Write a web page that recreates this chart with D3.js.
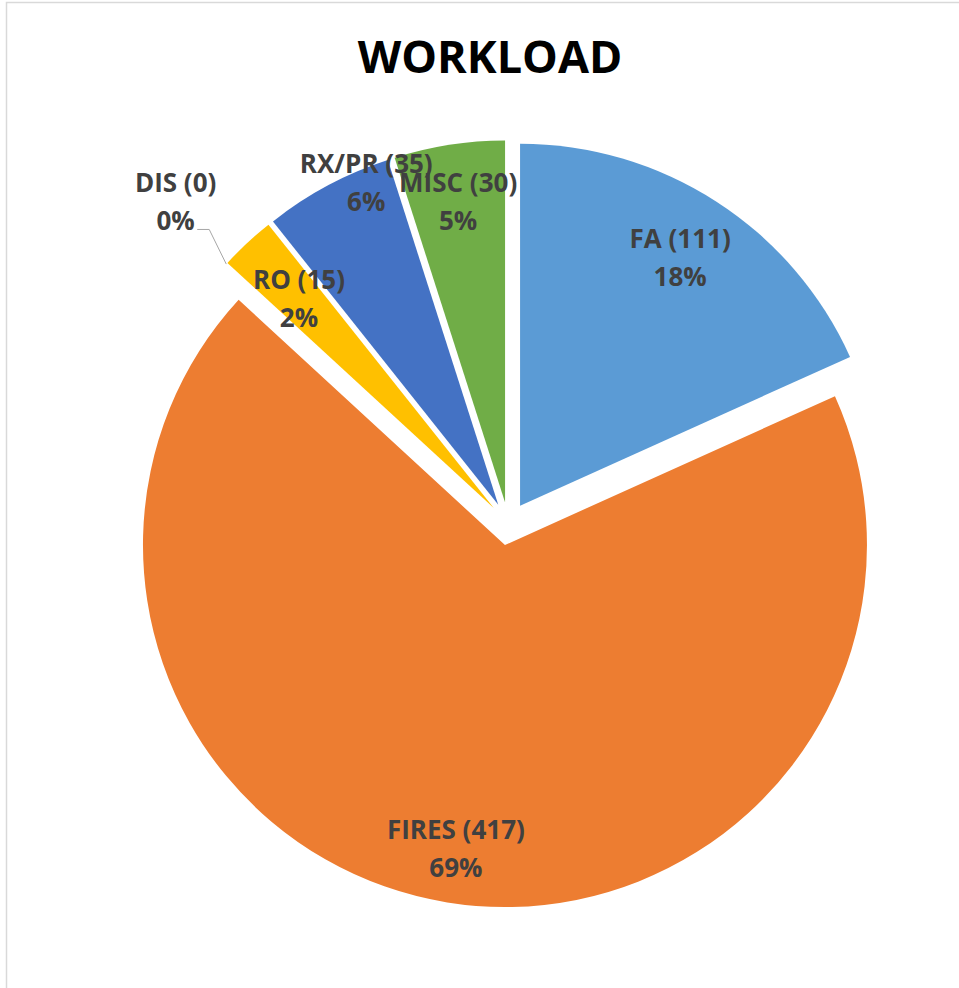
<!DOCTYPE html>
<html>
<head>
<meta charset="utf-8">
<script src="https://cdn.jsdelivr.net/npm/d3@7"></script>
<style>
  html, body { margin: 0; padding: 0; background: #fff; }
  svg { display: block; }
</style>
</head>
<body>
<svg id="canvas"></svg>
<script>
let width = 959;
let height = 988;

// chart data
let categories = ['FA', 'FIRES', 'DIS', 'RO', 'RX/PR', 'MISC'];
let counts = [111, 417, 0, 15, 35, 30];
let percentLabels = ['18%', '69%', '0%', '2%', '6%', '5%'];
let colors = ['#5B9BD5', '#ED7D31', '#A5A5A5', '#FFC000', '#4472C4', '#70AD47'];

// pie layout
let cx = 508.4;
let cy = 523.8;
let radius = 362;
let explode = 21.5;

// where each label sits (fraction of radius, angle nudge in degrees)
let labelSpots = {
  'FA': [0.815, 0],
  'FIRES': [0.85, 0],
  'DIS': [1.22, 1.5],
  'RO': [0.79, 0],
  'RX/PR': [0.96, 5.8],
  'MISC': [0.84, 0]
};

let canvas = d3.select('#canvas')
canvas.attr('width', width).attr('height', height)

// chart area border (only top and left show in the frame)
canvas.append('rect')
  .attr('x', 6.5).attr('y', 2.5)
  .attr('width', width + 20).attr('height', height + 20)
  .attr('fill', 'none')
  .attr('stroke', '#d9d9d9')
  .attr('stroke-width', 1.5)

canvas.append('text')
  .attr('x', 490)
  .attr('y', 73)
  .attr('text-anchor', 'middle')
  .style('font-family', "'Open Sans', sans-serif")
  .style('font-weight', 'bold')
  .style('font-size', '45px')
  .style('fill', '#000')
  .text('WORKLOAD')

let data = categories.map((c, i) => ({ name: c, value: counts[i], pct: percentLabels[i], color: colors[i] }))

let pie = d3.pie()
  .sort(null)
  .value(d => d.value)

let arcs = pie(data)

let arc = d3.arc().innerRadius(0).outerRadius(radius)

let offsetOf = (d) => {
  let mid = (d.startAngle + d.endAngle) / 2
  return [Math.sin(mid) * explode, -Math.cos(mid) * explode]
}

let g = canvas.append('g').attr('transform', `translate(${cx},${cy})`)

g.selectAll('path.slice')
  .data(arcs)
  .enter()
  .append('path')
  .attr('class', 'slice')
  .attr('d', arc)
  .attr('fill', d => d.data.color)
  .attr('transform', d => {
    let o = offsetOf(d)
    return `translate(${o[0]},${o[1]})`
  })

let labelPoint = (d) => {
  let spot = labelSpots[d.data.name]
  let mid = (d.startAngle + d.endAngle) / 2 + spot[1] * Math.PI / 180
  let o = offsetOf(d)
  let r = radius * spot[0]
  return [o[0] + Math.sin(mid) * r, o[1] - Math.cos(mid) * r]
}

// leader line for the empty slice
arcs.filter(d => d.value === 0).forEach(d => {
  let o = offsetOf(d)
  let a = d.startAngle
  let p0 = [o[0] + Math.sin(a) * radius, o[1] - Math.cos(a) * radius]
  let p1 = [o[0] + Math.sin(a + 0.035) * radius * 1.10, o[1] - Math.cos(a + 0.035) * radius * 1.10]
  let p2 = [p1[0] - 12, p1[1]]
  g.append('path')
    .attr('d', d3.line()([p0, p1, p2]))
    .attr('fill', 'none')
    .attr('stroke', '#a6a6a6')
    .attr('stroke-width', 1)
})

let labels = g.selectAll('text.label')
  .data(arcs)
  .enter()
  .append('text')
  .attr('class', 'label')
  .attr('text-anchor', 'middle')
  .style('font-family', "'Open Sans', sans-serif")
  .style('font-weight', 'bold')
  .style('font-size', '26px')
  .style('fill', '#404040')
  .attr('transform', d => {
    let p = labelPoint(d)
    return `translate(${p[0]},${p[1]})`
  })

labels.append('tspan')
  .attr('x', 0)
  .attr('y', -10)
  .text(d => `${d.data.name} (${d.data.value})`)

labels.append('tspan')
  .attr('x', 0)
  .attr('y', 28)
  .text(d => d.data.pct)
</script>
</body>
</html>
